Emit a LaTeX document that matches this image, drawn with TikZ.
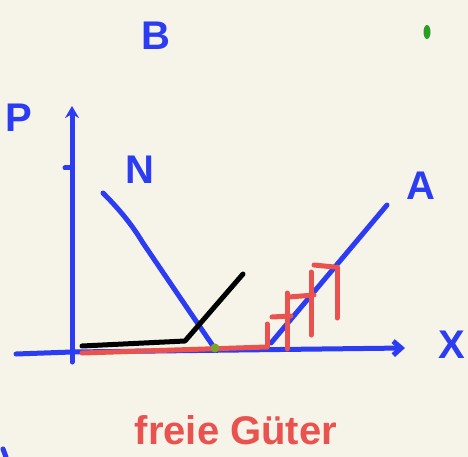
\documentclass[tikz,border=0pt]{standalone}
\usepackage{fontspec}
\setmainfont{Liberation Sans}
\usetikzlibrary{arrows.meta, calc, shapes.geometric}
\definecolor{skBack}{HTML}{F6F3E9}
\definecolor{skBlue}{HTML}{2B3CF2}
\definecolor{skRed}{HTML}{E9524E}
\definecolor{skGreen}{HTML}{2A9E22}
\definecolor{skOlive}{HTML}{7FA02A}
\tikzset{
  pen/.style={line width=5pt, line cap=round, line join=round},
  axisline/.style={pen, skBlue},
  curve/.style={pen, skBlue},
  kinked/.style={pen, black},
  stair/.style={pen, skRed},
  letter/.style={text=skBlue, font=\fontsize{40}{40}\selectfont\bfseries, inner sep=0pt},
  caption/.style={text=skRed, font=\fontsize{40}{40}\selectfont\bfseries, inner sep=0pt},
  dot/.style={fill, ellipse, inner sep=0pt}
}
\begin{document}
\begin{tikzpicture}[x=1pt, y=-1pt]
  \useasboundingbox (0,0) rectangle (468,457);
  \fill[skBack] (0,0) rectangle (468,457);
  % labels
  \node[letter] (bmark) at (156,36) {B};
  \node[letter] (plab) at (19,118) {P};
  \node[letter] (nlab) at (140,170) {N};
  \node[letter] (alab) at (421,186) {A};
  \node[letter] (xlab) at (452,345) {X};
  \node[caption] (free) at (236,430) {freie Güter};
  \node[dot, skGreen, minimum width=7pt, minimum height=14pt] (gdot) at (427,32) {};
  % axes
  \coordinate (orig) at (72,352);
  \coordinate (ytop) at (72,106);
  \coordinate (xleft) at (16,354);
  \coordinate (xend) at (405,348);
  \draw[axisline, -{Stealth[length=12pt, width=14pt]}] (72,362) -- (ytop);
  \draw[axisline, -{Straight Barb[length=8pt, width=14pt]}] (xleft) -- (orig) -- (xend);
  \draw[axisline] (65,168) -- (72,168);
  % demand and supply
  \coordinate (n1) at (103,193);
  \coordinate (n2) at (143,243);
  \coordinate (n3) at (213,346);
  \draw[curve] (n1) .. controls (125,215) and (135,230) .. (n2) -- (n3);
  \coordinate (a1) at (271,343);
  \coordinate (a2) at (387,205);
  \draw[curve] (a1) -- (a2);
  % kinked line
  \coordinate (k1) at (82,346);
  \coordinate (k2) at (185,341);
  \coordinate (k3) at (243,274);
  \draw[kinked] (k1) -- (k2) -- (k3);
  % red base and stairs
  \coordinate (r0) at (82,353);
  \coordinate (r1) at (267,347);
  \draw[stair] (r0) -- (r1);
  \draw[stair] (267,347) -- (267,324);
  \draw[stair] (272,317) -- (291,316);
  \draw[stair] (287,349) -- (287,293);
  \draw[stair] (289,297) -- (314,295);
  \draw[stair] (311,335) -- (311,272);
  \draw[stair] (314,265) -- (334,267);
  \draw[stair] (337,267) -- (337,318);
  \node[dot, skOlive, minimum width=9pt, minimum height=9pt] (odot) at (215,348) {};
  % stray mark
  \draw[pen, skBlue] (3,449) -- (6,457);
\end{tikzpicture}
\end{document}
